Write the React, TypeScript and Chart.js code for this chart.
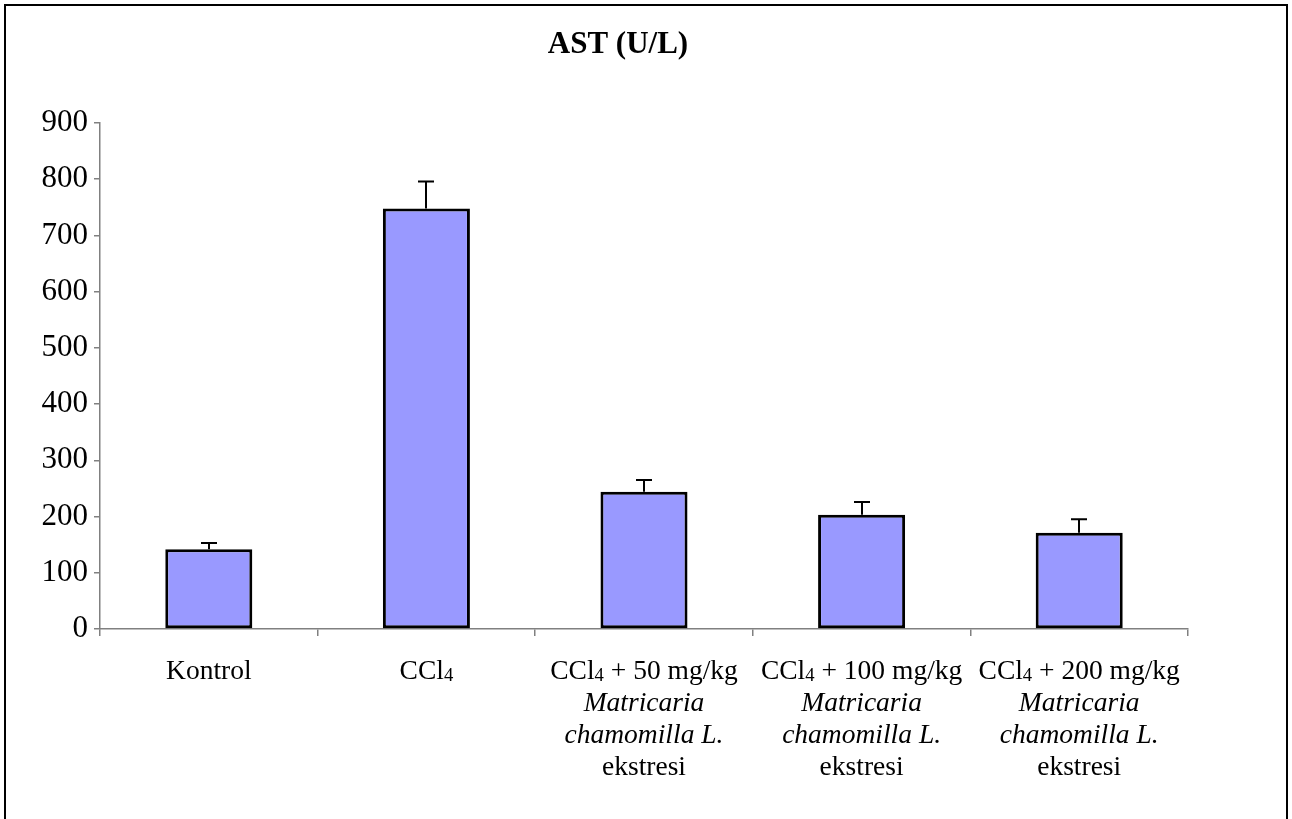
import React, { useEffect, useRef } from "react";
import { Chart, registerables } from "chart.js";

Chart.register(...registerables);

const categories = ["Kontrol", "CCl4", "CCl4 + 50 mg/kg", "CCl4 + 100 mg/kg", "CCl4 + 200 mg/kg"];
const extractLines = ["Matricaria", "chamomilla L.", "ekstresi"];
const hasExtract = [false, false, true, true, true];
const astMeans = [142, 748, 244, 203, 171];
const astErrors = [11, 48, 21, 23, 24];
const yMin = 0;
const yMax = 900;
const yStep = 100;
const titleText = "AST (U/L)";

const SERIF = '"Liberation Serif", "Times New Roman", serif';

function drawSubLine(ctx: CanvasRenderingContext2D, text: string, cx: number, y: number, size: number, italic: boolean) {
  const style = italic ? "italic " : "";
  const segs: { t: string; s: number; dy: number }[] = [];
  if (text.startsWith("CCl4")) {
    segs.push({ t: "CCl", s: size, dy: 0 });
    segs.push({ t: "4", s: size * 0.68, dy: size * 0.08 });
    const rest = text.slice(4);
    if (rest) segs.push({ t: rest, s: size, dy: 0 });
  } else {
    segs.push({ t: text, s: size, dy: 0 });
  }
  let total = 0;
  const widths = segs.map((sg) => {
    ctx.font = `${style}${sg.s}px ${SERIF}`;
    const w = ctx.measureText(sg.t).width;
    total += w;
    return w;
  });
  let x = cx - total / 2;
  ctx.textAlign = "left";
  ctx.textBaseline = "alphabetic";
  segs.forEach((sg, i) => {
    ctx.font = `${style}${sg.s}px ${SERIF}`;
    ctx.fillText(sg.t, x, y + sg.dy);
    x += widths[i];
  });
}

const decorPlugin = {
  id: "decor",
  afterDatasetsDraw(chart: any) {
    const ctx = chart.ctx as CanvasRenderingContext2D;
    const xs = chart.scales.x;
    const ys = chart.scales.y;
    const meta = chart.getDatasetMeta(0);
    ctx.save();
    // error bars (upper only)
    ctx.strokeStyle = "#000";
    ctx.lineWidth = 2;
    meta.data.forEach((bar: any, i: number) => {
      const x = Math.round(bar.x);
      const yb = ys.getPixelForValue(astMeans[i]);
      const yt = ys.getPixelForValue(astMeans[i] + astErrors[i]);
      ctx.beginPath();
      ctx.moveTo(x, yb);
      ctx.lineTo(x, yt);
      ctx.moveTo(x - 8, yt);
      ctx.lineTo(x + 8, yt);
      ctx.stroke();
    });
    // title
    ctx.fillStyle = "#000";
    ctx.font = `bold 31px ${SERIF}`;
    ctx.textAlign = "center";
    ctx.textBaseline = "alphabetic";
    ctx.fillText(titleText, 618, 53);
    // x labels
    categories.forEach((c, i) => {
      const cx = xs.getPixelForValue(i);
      const base = 679;
      drawSubLine(ctx, c, cx, base, 27.5, false);
      if (hasExtract[i]) {
        drawSubLine(ctx, extractLines[0], cx, base + 32, 27.5, true);
        drawSubLine(ctx, extractLines[1], cx, base + 64, 27.5, true);
        drawSubLine(ctx, extractLines[2], cx, base + 96, 27.5, false);
      }
    });
    ctx.restore();
  },
};

export default function App() {
  const ref = useRef<HTMLCanvasElement>(null);
  useEffect(() => {
    if (!ref.current) return;
    const chart = new Chart(ref.current, {
      type: "bar",
      data: {
        labels: categories,
        datasets: [
          {
            data: astMeans,
            backgroundColor: "#9999FF",
            borderColor: "#000000",
            borderWidth: 3,
            borderSkipped: false,
            barPercentage: 0.4,
            categoryPercentage: 1,
          },
        ],
      },
      options: {
        animation: false,
        responsive: false,
        maintainAspectRatio: false,
        layout: { padding: { left: 0, top: 123, right: 104, bottom: 180 } },
        plugins: { legend: { display: false }, tooltip: { enabled: false }, title: { display: false } },
        scales: {
          x: {
            afterFit: (s: any) => {
              s.height = 10;
            },
            ticks: { display: false },
            grid: {
              offset: true,
              drawOnChartArea: false,
              drawTicks: true,
              tickLength: 7,
              color: "#808080",
              lineWidth: 1.5,
            },
            border: { color: "#808080", width: 1.5 },
          },
          y: {
            min: yMin,
            max: yMax,
            afterFit: (s: any) => {
              s.width = 100;
            },
            ticks: {
              stepSize: yStep,
              color: "#000",
              padding: 6,
              font: { family: SERIF, size: 31 },
            },
            grid: {
              drawOnChartArea: false,
              drawTicks: true,
              tickLength: 6,
              color: "#808080",
              lineWidth: 1.5,
            },
            border: { color: "#808080", width: 1.5 },
          },
        },
      },
      plugins: [decorPlugin],
    });
    return () => chart.destroy();
  }, []);
  return (
    <div style={{ position: "absolute", left: 0, top: 0, width: 1292, height: 819, overflow: "hidden", background: "#fff" }}>
      <div
        style={{
          position: "absolute",
          left: 4,
          top: 4,
          width: 1280,
          height: 830,
          border: "2.5px solid #000",
        }}
      />
      <canvas ref={ref} width={1292} height={819} style={{ position: "absolute", left: 0, top: 0 }} />
    </div>
  );
}
